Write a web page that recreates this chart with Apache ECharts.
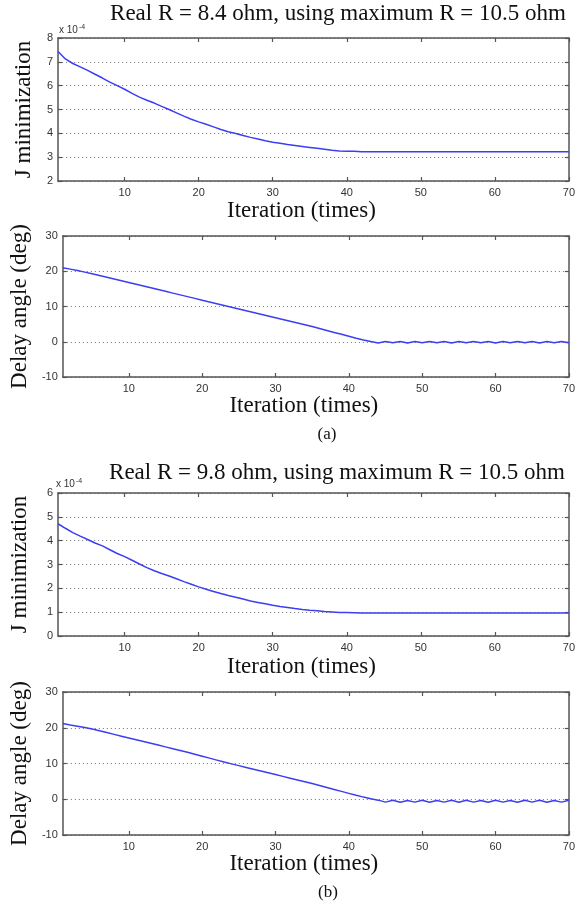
<!DOCTYPE html>
<html>
<head>
<meta charset="utf-8">
<script src="https://cdn.jsdelivr.net/npm/echarts@6/dist/echarts.min.js"></script>
<style>html,body{margin:0;padding:0;background:#fff;}#c{width:578px;height:908px;}</style>
</head>
<body>
<div id="c"></div>
<script>
const iterations = [1,2,3,4,5,6,7,8,9,10,11,12,13,14,15,16,17,18,19,20,21,22,23,24,25,26,27,28,29,30,31,32,33,34,35,36,37,38,39,40,41,42,43,44,45,46,47,48,49,50,51,52,53,54,55,56,57,58,59,60,61,62,63,64,65,66,67,68,69,70];
// J minimization (x 10^-4), case (a)
const jA = [7.43,7.12,6.93,6.79,6.64,6.48,6.32,6.15,6.00,5.85,
            5.68,5.52,5.39,5.27,5.13,5.00,4.86,4.72,4.59,4.48,
            4.38,4.27,4.16,4.07,3.99,3.91,3.83,3.76,3.69,3.63,
            3.58,3.53,3.49,3.45,3.41,3.37,3.33,3.29,3.26,3.25,
            3.25,3.23,3.23,3.23,3.23,3.23,3.23,3.23,3.23,3.23,
            3.23,3.23,3.23,3.23,3.23,3.23,3.23,3.23,3.23,3.23,
            3.23,3.23,3.23,3.23,3.23,3.23,3.23,3.23,3.23,3.23];
// Delay angle (deg), case (a)
const delayA = [21.0,20.6,20.2,19.75,19.3,18.8,18.3,17.8,17.3,16.8,
                16.3,15.8,15.3,14.8,14.3,13.8,13.3,12.8,12.3,11.8,
                11.3,10.8,10.3,9.8,9.3,8.8,8.3,7.8,7.3,6.8,
                6.3,5.8,5.3,4.8,4.3,3.75,3.2,2.65,2.1,1.55,
                1.0,0.5,0.05,-0.35,0.05,-0.3,0.1,-0.35,0.05,-0.3,
                0.1,-0.3,0.05,-0.35,0.1,-0.3,0.05,-0.3,0.1,-0.35,
                0.05,-0.3,0.1,-0.3,0.05,-0.35,0.1,-0.3,0.05,-0.3];
// J minimization (x 10^-4), case (b)
const jB = [4.71,4.52,4.34,4.19,4.05,3.90,3.78,3.62,3.46,3.33,
            3.18,3.02,2.87,2.74,2.62,2.52,2.40,2.28,2.17,2.06,
            1.96,1.87,1.78,1.70,1.63,1.55,1.47,1.41,1.35,1.29,
            1.24,1.20,1.15,1.11,1.08,1.06,1.03,1.01,0.99,0.99,
            0.98,0.96,0.96,0.96,0.96,0.96,0.96,0.96,0.96,0.96,
            0.96,0.96,0.96,0.96,0.96,0.96,0.96,0.96,0.96,0.96,
            0.96,0.96,0.96,0.96,0.96,0.96,0.96,0.96,0.96,0.96];
// Delay angle (deg), case (b)
const delayB = [21.2,20.8,20.45,20.1,19.65,19.15,18.65,18.15,17.65,17.15,
                16.65,16.15,15.65,15.15,14.65,14.15,13.65,13.15,12.6,12.05,
                11.5,10.95,10.4,9.9,9.4,8.9,8.4,7.9,7.4,6.9,
                6.4,5.9,5.4,4.9,4.4,3.85,3.3,2.75,2.2,1.65,
                1.1,0.6,0.15,-0.25,-0.8,-0.3,-0.85,-0.35,-0.8,-0.3,
                -0.85,-0.35,-0.8,-0.3,-0.85,-0.3,-0.8,-0.35,-0.85,-0.3,
                -0.8,-0.35,-0.85,-0.3,-0.8,-0.3,-0.85,-0.35,-0.8,-0.3];
const xTickValues = [10,20,30,40,50,60,70];
const titles = ['Real R = 8.4 ohm, using maximum R = 10.5 ohm', 'Real R = 9.8 ohm, using maximum R = 10.5 ohm'];
const panelLabels = ['(a)', '(b)'];
const xName = 'Iteration (times)';
const yNames = ['J minimization', 'Delay angle (deg)', 'J minimization', 'Delay angle (deg)'];
const yRanges = [[2, 8, 1], [-10, 30, 10], [0, 6, 1], [-10, 30, 10]];
const seriesData = [jA, delayA, jB, delayB];

const grids = [
  {left: 58, top: 38, width: 512, height: 143},
  {left: 58, top: 236, width: 513, height: 141},
  {left: 55, top: 493, width: 519, height: 143},
  {left: 55, top: 692, width: 520, height: 143}
];
const xNameGaps = [18, 16, 19, 15];
const yNameGaps = [23, 22, 27, 28];

const axisCol = '#555';
const serif = 'Liberation Serif, Times New Roman, serif';
const sans = 'Liberation Sans, Arial, sans-serif';

const xAxes = [], yAxes = [], series = [];
grids.forEach((g, i) => {
  xAxes.push({
    type: 'value', gridIndex: i, min: 1, max: 70, position: 'bottom',
    axisLine: {show: true, onZero: false, lineStyle: {color: axisCol, width: 1.5}},
    axisTick: {show: true, inside: true, length: 4, customValues: xTickValues, lineStyle: {color: axisCol, width: 1.2}},
    axisLabel: {show: true, customValues: xTickValues, margin: 6, color: '#333', fontSize: 11, fontFamily: sans},
    splitLine: {show: false},
    name: xName, nameLocation: 'middle', nameGap: xNameGaps[i],
    nameTextStyle: {fontFamily: serif, fontSize: 23, color: '#111', padding: [0, 24, 0, 0]}
  });
  xAxes.push({
    type: 'value', gridIndex: i, min: 1, max: 70, position: 'top',
    axisLine: {show: true, onZero: false, lineStyle: {color: axisCol, width: 1.5}},
    axisTick: {show: true, inside: true, length: 4, customValues: xTickValues, lineStyle: {color: axisCol, width: 1.2}},
    axisLabel: {show: false},
    splitLine: {show: false}
  });
  const r = yRanges[i];
  yAxes.push({
    type: 'value', gridIndex: i, min: r[0], max: r[1], interval: r[2], position: 'left',
    axisLine: {show: true, onZero: false, lineStyle: {color: axisCol, width: 1.5}},
    axisTick: {show: true, inside: true, length: 4, lineStyle: {color: axisCol, width: 1.2}},
    axisLabel: {show: true, margin: 5, color: '#333', fontSize: 11, fontFamily: sans},
    splitLine: {show: true, lineStyle: {color: '#888', width: 1.2, type: [1.2, 2.8]}},
    name: yNames[i], nameLocation: 'middle', nameGap: yNameGaps[i],
    nameTextStyle: {fontFamily: serif, fontSize: 23, color: '#111'}
  });
  yAxes.push({
    type: 'value', gridIndex: i, min: r[0], max: r[1], interval: r[2], position: 'right',
    axisLine: {show: true, onZero: false, lineStyle: {color: axisCol, width: 1.5}},
    axisTick: {show: true, inside: true, length: 4, lineStyle: {color: axisCol, width: 1.2}},
    axisLabel: {show: false},
    splitLine: {show: false}
  });
  series.push({
    type: 'line', xAxisIndex: 2 * i, yAxisIndex: 2 * i,
    data: iterations.map((x, k) => [x, seriesData[i][k]]),
    showSymbol: false, symbol: 'none', silent: true,
    lineStyle: {color: '#3d3df2', width: 1.5}
  });
});

const graphic = [
  {type: 'text', x: 338, y: 14, style: {text: titles[0], font: '23px ' + serif, fill: '#111', textAlign: 'center', textVerticalAlign: 'middle'}},
  {type: 'text', x: 337, y: 473, style: {text: titles[1], font: '23px ' + serif, fill: '#111', textAlign: 'center', textVerticalAlign: 'middle'}},
  {type: 'text', x: 327, y: 435, style: {text: panelLabels[0], font: '17px ' + serif, fill: '#111', textAlign: 'center', textVerticalAlign: 'middle'}},
  {type: 'text', x: 328, y: 893, style: {text: panelLabels[1], font: '17px ' + serif, fill: '#111', textAlign: 'center', textVerticalAlign: 'middle'}},
  {type: 'text', x: 59, y: 30, style: {text: '{a|x 10}{b|-4}', textVerticalAlign: 'middle', rich: {a: {fontSize: 10, fontFamily: sans, fill: '#333', color: '#333'}, b: {fontSize: 7, fontFamily: sans, fill: '#333', color: '#333', verticalAlign: 'top', padding: [0, 0, 6, 1]}}}},
  {type: 'text', x: 56, y: 484, style: {text: '{a|x 10}{b|-4}', textVerticalAlign: 'middle', rich: {a: {fontSize: 10, fontFamily: sans, fill: '#333', color: '#333'}, b: {fontSize: 7, fontFamily: sans, fill: '#333', color: '#333', verticalAlign: 'top', padding: [0, 0, 6, 1]}}}}
];

const chart = echarts.init(document.getElementById('c'), null, {renderer: 'canvas'});
chart.setOption({
  animation: false,
  backgroundColor: '#fff',
  grid: grids.map(g => Object.assign({containLabel: false}, g)),
  xAxis: xAxes,
  yAxis: yAxes,
  series: series,
  graphic: graphic
});
</script>
</body>
</html>
